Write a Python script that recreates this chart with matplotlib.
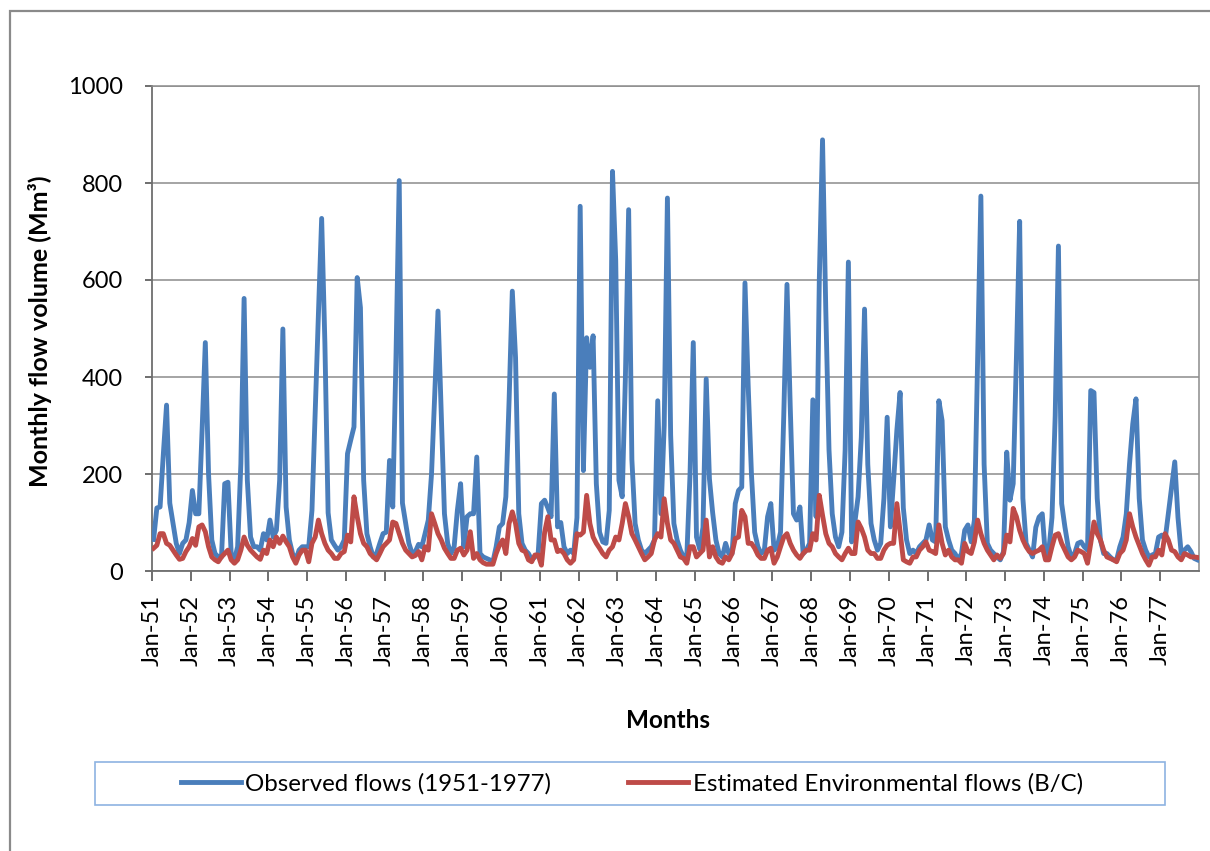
import matplotlib
matplotlib.use("Agg")
import matplotlib.pyplot as plt
from matplotlib.patches import Rectangle
import numpy as np

# monthly values, one row per year (Jan..Dec), 1951-1977
observed_flows = [
    65, 130, 132, 240, 342, 140, 98, 57, 36, 57, 64, 100,        # 1951
    166, 118, 118, 290, 471, 200, 64, 36, 29, 29, 180, 183,      # 1952
    36, 23, 50, 221, 562, 187, 70, 50, 50, 43, 77, 64,           # 1953
    105, 70, 84, 187, 499, 132, 64, 36, 23, 43, 50, 50,          # 1954
    50, 125, 330, 530, 727, 470, 120, 64, 53, 43, 50, 64,        # 1955
    242, 270, 297, 605, 543, 187, 77, 50, 29, 36, 57, 77,        # 1956
    80, 228, 132, 440, 805, 140, 98, 57, 36, 40, 55, 50,         # 1957
    77, 105, 200, 365, 536, 324, 118, 57, 36, 50, 125, 180,      # 1958
    50, 112, 118, 118, 235, 36, 29, 26, 23, 19, 50, 91,          # 1959
    98, 153, 351, 577, 440, 118, 57, 43, 36, 23, 29, 36,         # 1960
    139, 146, 130, 112, 365, 91, 100, 50, 36, 43, 36, 110,       # 1961
    752, 207, 481, 420, 485, 180, 80, 60, 57, 125, 824, 640,     # 1962
    187, 153, 400, 745, 230, 98, 64, 43, 36, 43, 50, 64,         # 1963
    351, 118, 300, 769, 280, 98, 64, 43, 29, 30, 200, 471,       # 1964
    70, 45, 90, 396, 190, 120, 64, 36, 29, 57, 36, 36,           # 1965
    139, 166, 173, 594, 380, 200, 80, 50, 36, 43, 112, 139,      # 1966
    43, 50, 80, 320, 591, 340, 118, 105, 132, 36, 43, 57,        # 1967
    353, 112, 600, 889, 540, 250, 118, 70, 50, 80, 250, 637,     # 1968
    60, 100, 153, 276, 540, 220, 98, 64, 43, 57, 150, 317,       # 1969
    91, 187, 290, 368, 130, 64, 36, 43, 36, 50, 57, 64,          # 1970
    95, 64, 60, 351, 310, 91, 64, 43, 36, 23, 36, 84,            # 1971
    95, 60, 105, 440, 773, 220, 57, 43, 36, 29, 23, 40,          # 1972
    245, 146, 180, 440, 721, 150, 57, 43, 29, 90, 111, 118,      # 1973
    29, 40, 110, 320, 670, 139, 91, 50, 29, 36, 57, 60,          # 1974
    50, 43, 372, 368, 150, 64, 36, 36, 29, 23, 23, 50,           # 1975
    70, 118, 221, 303, 355, 150, 64, 43, 29, 33, 36, 70,         # 1976
    74, 64, 118, 173, 225, 110, 36, 43, 50, 40, 26, 23,          # 1977
]

environmental_flows = [
    47, 53, 77, 77, 57, 53, 43, 33, 24, 26, 40, 50,
    67, 53, 91, 95, 81, 50, 29, 23, 19, 29, 36, 43,
    23, 16, 23, 43, 70, 53, 43, 36, 29, 24, 43, 36,
    64, 50, 70, 57, 72, 60, 50, 29, 16, 33, 43, 43,
    19, 57, 70, 105, 77, 57, 43, 36, 26, 26, 36, 40,
    74, 60, 153, 112, 77, 57, 50, 36, 29, 23, 36, 50,
    57, 64, 101, 98, 77, 57, 43, 36, 29, 32, 40, 23,
    50, 43, 118, 98, 77, 64, 47, 36, 26, 26, 43, 47,
    33, 43, 81, 26, 36, 23, 17, 14, 14, 14, 36, 53,
    64, 36, 98, 122, 98, 57, 43, 40, 23, 19, 33, 33,
    12, 80, 112, 64, 64, 40, 43, 36, 23, 16, 23, 77,
    74, 80, 156, 98, 70, 57, 47, 36, 29, 43, 50, 70,
    64, 98, 139, 112, 77, 64, 50, 36, 23, 29, 36, 64,
    77, 70, 149, 98, 64, 57, 43, 29, 26, 16, 50, 50,
    29, 36, 43, 105, 29, 50, 29, 19, 16, 29, 23, 36,
    67, 70, 125, 112, 57, 57, 47, 33, 26, 26, 43, 47,
    16, 29, 50, 70, 77, 57, 43, 33, 26, 36, 43, 43,
    77, 64, 156, 115, 77, 57, 50, 36, 29, 23, 36, 47,
    36, 36, 101, 88, 70, 43, 36, 36, 26, 26, 43, 53,
    57, 57, 139, 80, 23, 19, 16, 29, 29, 43, 50, 60,
    43, 40, 36, 95, 57, 33, 43, 29, 23, 23, 16, 57,
    40, 36, 60, 105, 77, 57, 43, 33, 23, 33, 26, 36,
    74, 60, 129, 112, 84, 64, 50, 40, 36, 40, 43, 50,
    23, 23, 50, 74, 77, 57, 43, 29, 23, 29, 43, 40,
    36, 16, 57, 101, 77, 64, 43, 29, 26, 23, 19, 36,
    43, 64, 118, 91, 70, 53, 36, 23, 12, 29, 29, 43,
    33, 77, 64, 43, 40, 29, 23, 36, 33, 29, 29, 28,
]

year_labels = [
    'Jan-51', 'Jan-52', 'Jan-53', 'Jan-54', 'Jan-55', 'Jan-56', 'Jan-57',
    'Jan-58', 'Jan-59', 'Jan-60', 'Jan-61', 'Jan-62', 'Jan-63', 'Jan-64',
    'Jan-65', 'Jan-66', 'Jan-67', 'Jan-68', 'Jan-69', 'Jan-70', 'Jan-71',
    'Jan-72', 'Jan-73', 'Jan-74', 'Jan-75', 'Jan-76', 'Jan-77',
]

y_ticks = [0, 200, 400, 600, 800, 1000]


def plot_flows():
    plt.rcParams['font.family'] = ['Lato', 'DejaVu Sans']

    fig = plt.figure(figsize=(12.1, 8.51), dpi=100)
    W, H = 1210, 851

    # outer chart frame (runs off the right and bottom edge)
    fig.patches.append(Rectangle((10 / W, -0.05), 1.1, 1 - 11 / H + 0.05,
                                 transform=fig.transFigure, fill=False,
                                 edgecolor='#8a8a8a', linewidth=1.6))

    ax = fig.add_axes([152 / W, 1 - 571 / H, (1199 - 152) / W, (571 - 86) / H])

    n = len(observed_flows)
    x = np.arange(n) + 0.5
    ax.plot(x, observed_flows, color='#4a7ebb', lw=3.5,
            solid_joinstyle='round', label='Observed flows (1951-1977)', zorder=3)
    ax.plot(x, environmental_flows, color='#be4b48', lw=3.5,
            solid_joinstyle='round', label='Estimated Environmental flows (B/C)', zorder=4)

    ax.set_xlim(0, n)
    ax.set_ylim(0, 1000)
    ax.set_xticks(np.arange(0, n, 12))
    ax.set_xticklabels(year_labels, rotation=90, fontsize=17)
    ax.set_yticks(y_ticks)
    ax.set_yticklabels([str(v) for v in y_ticks], fontsize=17)
    ax.tick_params(axis='x', length=7, width=1.2, color='#555555', pad=10)
    ax.tick_params(axis='y', length=5, width=1.2, color='#555555', pad=16)

    ax.grid(axis='y', color='#8c8c8c', lw=1.1)
    ax.set_axisbelow(True)
    for side in ['top', 'right']:
        ax.spines[side].set_color('#8c8c8c')
        ax.spines[side].set_linewidth(1.1)
    for side in ['left', 'bottom']:
        ax.spines[side].set_color('#6e6e6e')
        ax.spines[side].set_linewidth(1.3)

    fig.text(668 / W, 1 - 720 / H, 'Months', fontsize=17.5, fontweight='bold',
             ha='center', va='center')
    fig.text(40 / W, 1 - 331 / H, 'Monthly flow volume (Mm³)', fontsize=18,
             fontweight='bold', rotation=90, ha='center', va='center')

    # legend frame is wider than its entries, so draw it separately
    fig.patches.append(Rectangle((95 / W, 1 - 805 / H), (1165 - 95) / W, 43 / H,
                                 transform=fig.transFigure, fill=False,
                                 edgecolor='#8db3e2', linewidth=1.2))
    fig.legend(loc='center', bbox_to_anchor=(632 / W, 1 - 783.5 / H), ncol=2,
               frameon=False, fontsize=17.3, handlelength=2.5, handletextpad=0.2,
               columnspacing=3.2)

    fig.savefig('out.png', dpi=100)


def main():
    plot_flows()


if __name__ == "__main__":
    main()
